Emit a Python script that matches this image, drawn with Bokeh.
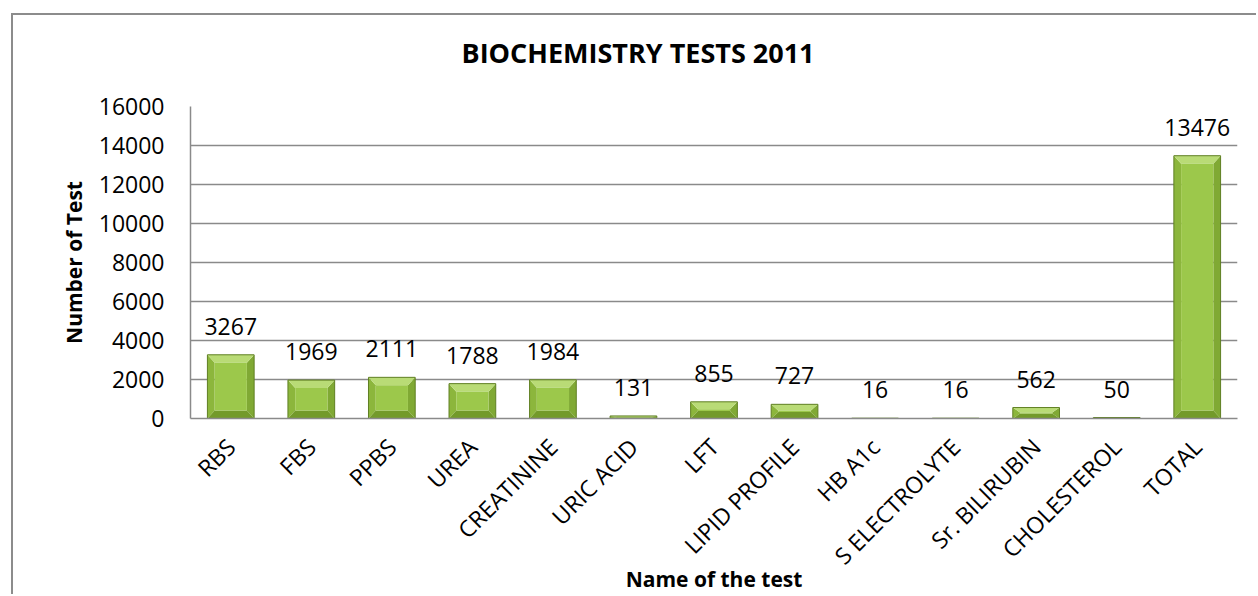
import numpy as np
from math import pi
from bokeh.plotting import figure
from bokeh.models import Range1d, FixedTicker, ColumnDataSource, LabelSet, Title
from bokeh.core.properties import value
from bokeh.embed import file_html
from bokeh.resources import INLINE

# ---- data ----
categories = ["RBS", "FBS", "PPBS", "UREA", "CREATININE", "URIC ACID", "LFT",
              "LIPID PROFILE", "HB A1c", "S ELECTROLYTE", "Sr. BILIRUBIN",
              "CHOLESTEROL", "TOTAL"]
values = [3267, 1969, 2111, 1788, 1984, 131, 855, 727, 16, 16, 562, 50, 13476]
y_ticks = [0, 2000, 4000, 6000, 8000, 10000, 12000, 14000, 16000]

title_text = "BIOCHEMISTRY TESTS 2011"
x_title = "Name of the test"
y_title = "Number of Test"

FONT = "Open Sans"
GRID = "#8a8a8a"

n = len(categories)
y_max = y_ticks[-1]

p = figure(width=1245, height=581, output_backend="svg", toolbar_location=None,
           x_range=Range1d(0, n), y_range=Range1d(0, y_max),
           min_border_left=177, min_border_right=21, min_border_top=91,
           min_border_bottom=178)
p.margin = (13, 0, 0, 11)
p.styles = {"border-left": "2px solid #8c8c8c", "border-top": "2px solid #8c8c8c"}
p.outline_line_color = None
p.background_fill_color = "white"
p.border_fill_color = "white"

# ---- bars with bevel ----
frame_h = 312.0
units_per_px = y_max / frame_h
half = 0.29
bev_x = 0.09
bev_y = 8 * units_per_px

centers = np.arange(n) + 0.5
face_xs, face_ys = [], []
top_xs, top_ys = [], []
bot_xs, bot_ys = [], []
lft_xs, lft_ys = [], []
rgt_xs, rgt_ys = [], []
for c, v in zip(centers, values):
    x0, x1 = c - half, c + half
    bh = min(bev_y, v * 0.45)
    bx = bev_x
    top_xs.append([x0, x1, x1 - bx, x0 + bx]); top_ys.append([v, v, v - bh, v - bh])
    bot_xs.append([x0, x1, x1 - bx, x0 + bx]); bot_ys.append([0, 0, bh, bh])
    lft_xs.append([x0, x0 + bx, x0 + bx, x0]); lft_ys.append([0, bh, v - bh, v])
    rgt_xs.append([x1, x1 - bx, x1 - bx, x1]); rgt_ys.append([0, bh, v - bh, v])
    face_xs.append([x0 + bx, x1 - bx, x1 - bx, x0 + bx]); face_ys.append([bh, bh, v - bh, v - bh])

p.patches(lft_xs, lft_ys, fill_color="#8cb63c", line_color=None)
p.patches(rgt_xs, rgt_ys, fill_color="#80a934", line_color=None)
p.patches(bot_xs, bot_ys, fill_color="#739a2a", line_color=None)
p.patches(top_xs, top_ys, fill_color="#b9db76", line_color=None)
p.patches(face_xs, face_ys, fill_color="#9cc84b", line_color=None)
p.vbar(x=centers, top=values, bottom=0, width=2 * half, fill_color=None,
       line_color="#5f7f22", line_width=1)

# ---- data labels ----
src = ColumnDataSource(dict(x=centers, y=values, t=[str(v) for v in values]))
p.add_layout(LabelSet(x="x", y="y", text="t", source=src, text_align="center",
                      text_baseline="alphabetic", y_offset=20,
                      text_font=value(FONT), text_font_size=value("23px"),
                      text_color="black"))

# ---- axes ----
p.yaxis.ticker = FixedTicker(ticks=y_ticks)
p.yaxis.major_tick_out = 0
p.yaxis.major_tick_in = 0
p.yaxis.minor_tick_line_color = None
p.yaxis.axis_line_color = GRID
p.yaxis.axis_line_width = 1.5
p.yaxis.major_label_standoff = 26
p.yaxis.major_label_text_font = FONT
p.yaxis.major_label_text_font_size = "23px"
p.yaxis.major_label_text_color = "black"
p.yaxis.axis_label = y_title
p.yaxis.axis_label_text_font = FONT
p.yaxis.axis_label_text_font_size = "21px"
p.yaxis.axis_label_text_font_style = "bold"
p.yaxis.axis_label_text_color = "black"
p.yaxis.axis_label_standoff = 8

p.xaxis.ticker = FixedTicker(ticks=list(centers))
p.xaxis.major_label_overrides = {float(c): cat for c, cat in zip(centers, categories)}
p.xaxis.major_label_orientation = pi / 4
p.xaxis.major_tick_out = 0
p.xaxis.major_tick_in = 0
p.xaxis.minor_tick_line_color = None
p.xaxis.axis_line_color = GRID
p.xaxis.axis_line_width = 1.5
p.xaxis.major_label_standoff = 24
p.xaxis.major_label_text_font = FONT
p.xaxis.major_label_text_font_size = "23px"
p.xaxis.major_label_text_color = "black"
p.xaxis.axis_label = x_title
p.xaxis.axis_label_text_font = FONT
p.xaxis.axis_label_text_font_size = "21px"
p.xaxis.axis_label_text_font_style = "bold"
p.xaxis.axis_label_text_color = "black"
p.xaxis.axis_label_standoff = -20

p.xgrid.grid_line_color = None
p.ygrid.ticker = FixedTicker(ticks=y_ticks)
p.ygrid.grid_line_color = GRID
p.ygrid.grid_line_width = 1.5

# ---- chart title (spacer nearest the frame, then the title) ----
p.add_layout(Title(text=" ", text_font_size="1px", standoff=26), "above")
p.add_layout(Title(text=title_text, align="left", offset=271, vertical_align="top",
                   standoff=10, text_font=FONT, text_font_size="27px",
                   text_font_style="bold", text_color="black"), "above")

open("out.html", "w").write(file_html(p, INLINE))
